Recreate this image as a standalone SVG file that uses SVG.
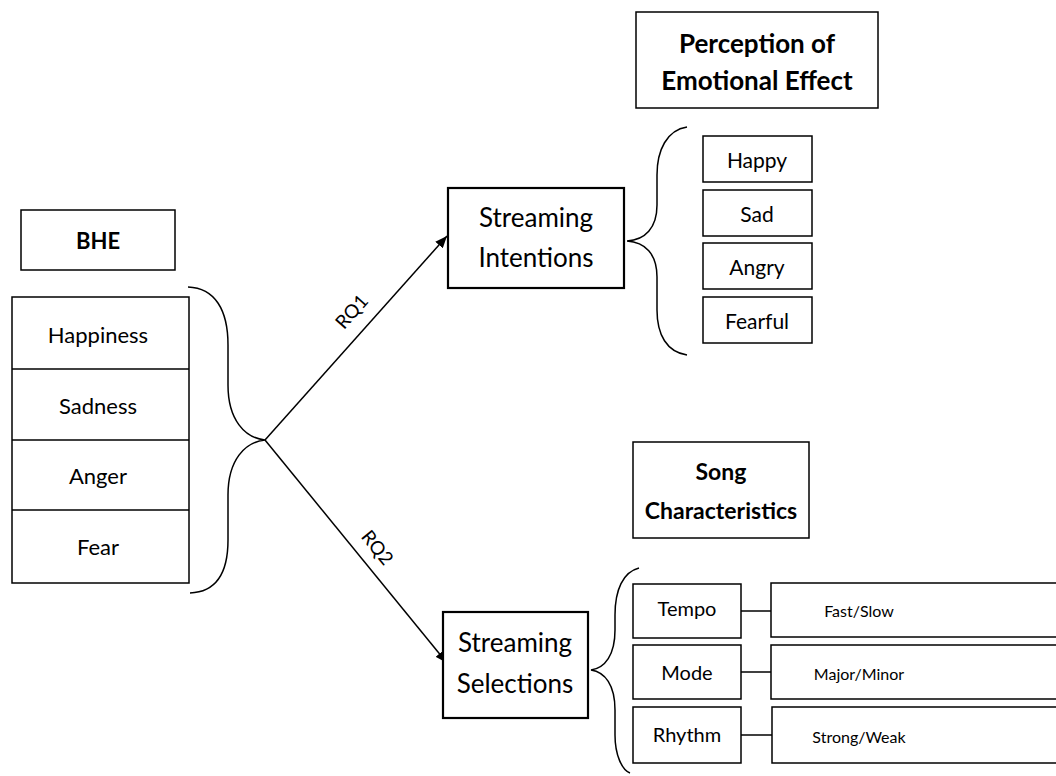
<svg xmlns="http://www.w3.org/2000/svg" width="1056" height="776" viewBox="0 0 1056 776">
<style>
.box{fill:#fff;stroke:#000;stroke-width:1.5}
.thick{fill:#fff;stroke:#000;stroke-width:2.2}
.t{font-family:Lato,"Liberation Sans",sans-serif;fill:#000;text-anchor:middle;dominant-baseline:central}
.b{font-weight:bold}
.ln{fill:none;stroke:#000;stroke-width:1.5}
</style>
<defs>
<marker id="ah" viewBox="0 0 12 10" refX="12" refY="5" markerWidth="12" markerHeight="10" markerUnits="userSpaceOnUse" orient="auto">
<path d="M0,0 L12,5 L0,10 z" fill="#000"/>
</marker>
</defs>
<rect width="1056" height="776" fill="#fff"/>

<g id="connectors">
<path class="ln" d="M188,287 C215,288 228,310 228,345 L228,385 C228,420 245,438 265,440 C245,442 228,460 228,495 L228,540 C228,575 215,592 190,593"/>
<path class="ln" d="M687,127 C667,130 657,150 657,175 L657,205 C657,228 645,240 627,241 C645,242 657,254 657,277 L657,310 C657,335 667,352 687,355"/>
<path class="ln" d="M639,568 C623,572 615,590 615,615 L615,630 C615,655 605,668 591,670 C605,672 615,685 615,710 L615,735 C615,755 622,770 630,773"/>
<line class="ln" x1="265" y1="440" x2="447" y2="236" marker-end="url(#ah)"/>
<line class="ln" x1="265" y1="440" x2="447" y2="663" marker-end="url(#ah)"/>
<text class="t" font-size="19" transform="translate(351,311) rotate(-48.3)">RQ1</text>
<text class="t" font-size="19" transform="translate(378,547) rotate(50.8)">RQ2</text>
<line class="ln" x1="741" y1="611" x2="771" y2="611"/>
<line class="ln" x1="741" y1="672" x2="771" y2="672"/>
<line class="ln" x1="741" y1="735" x2="772" y2="735"/>
</g>

<g id="bhe">
<rect class="box" x="21" y="210" width="154" height="60"/>
<text class="t b" x="98" y="240" font-size="22">BHE</text>
</g>

<g id="emotions">
<rect class="box" x="12" y="297" width="177" height="286"/>
<line class="ln" x1="12" y1="369" x2="189" y2="369"/>
<line class="ln" x1="12" y1="440" x2="189" y2="440"/>
<line class="ln" x1="12" y1="510" x2="189" y2="510"/>
<text class="t" x="98" y="334" font-size="22">Happiness</text>
<text class="t" x="98" y="405" font-size="22">Sadness</text>
<text class="t" x="98" y="475" font-size="22">Anger</text>
<text class="t" x="98" y="546" font-size="22">Fear</text>
</g>

<g id="intentions">
<rect class="thick" x="448" y="188" width="176" height="100"/>
<text class="t" x="536" y="217" font-size="26">Streaming</text>
<text class="t" x="536" y="257" font-size="26">Intentions</text>
</g>

<g id="selections">
<rect class="thick" x="443" y="612" width="145" height="106"/>
<text class="t" x="515" y="642" font-size="26">Streaming</text>
<text class="t" x="515" y="683" font-size="26">Selections</text>
</g>

<g id="perception">
<rect class="box" x="636" y="12" width="242" height="96"/>
<text class="t b" x="757" y="43" font-size="26">Perception of</text>
<text class="t b" x="757" y="80" font-size="26">Emotional Effect</text>
</g>

<g id="happy"><rect class="box" x="703" y="136" width="109" height="46"/><text class="t" x="757" y="159" font-size="21">Happy</text></g>
<g id="sad"><rect class="box" x="703" y="190" width="109" height="46"/><text class="t" x="757" y="213" font-size="21">Sad</text></g>
<g id="angry"><rect class="box" x="703" y="243" width="109" height="46"/><text class="t" x="757" y="266" font-size="21">Angry</text></g>
<g id="fearful"><rect class="box" x="703" y="297" width="109" height="46"/><text class="t" x="757" y="320" font-size="21">Fearful</text></g>

<g id="song">
<rect class="box" x="633" y="442" width="176" height="96"/>
<text class="t b" x="721" y="471" font-size="23">Song</text>
<text class="t b" x="721" y="510" font-size="23">Characteristics</text>
</g>

<g id="tempo"><rect class="box" x="633" y="584" width="108" height="54"/><text class="t" x="687" y="608" font-size="20">Tempo</text></g>
<g id="mode"><rect class="box" x="633" y="645" width="108" height="54"/><text class="t" x="687" y="672" font-size="20">Mode</text></g>
<g id="rhythm"><rect class="box" x="633" y="707" width="108" height="56"/><text class="t" x="687" y="734" font-size="20">Rhythm</text></g>

<g id="fastslow"><rect class="box" x="771" y="583" width="300" height="54"/><text class="t" x="859" y="610" font-size="16">Fast/Slow</text></g>
<g id="majorminor"><rect class="box" x="771" y="645" width="300" height="54"/><text class="t" x="859" y="673" font-size="16">Major/Minor</text></g>
<g id="strongweak"><rect class="box" x="772" y="707" width="300" height="56"/><text class="t" x="859" y="736" font-size="16">Strong/Weak</text></g>
</svg>
